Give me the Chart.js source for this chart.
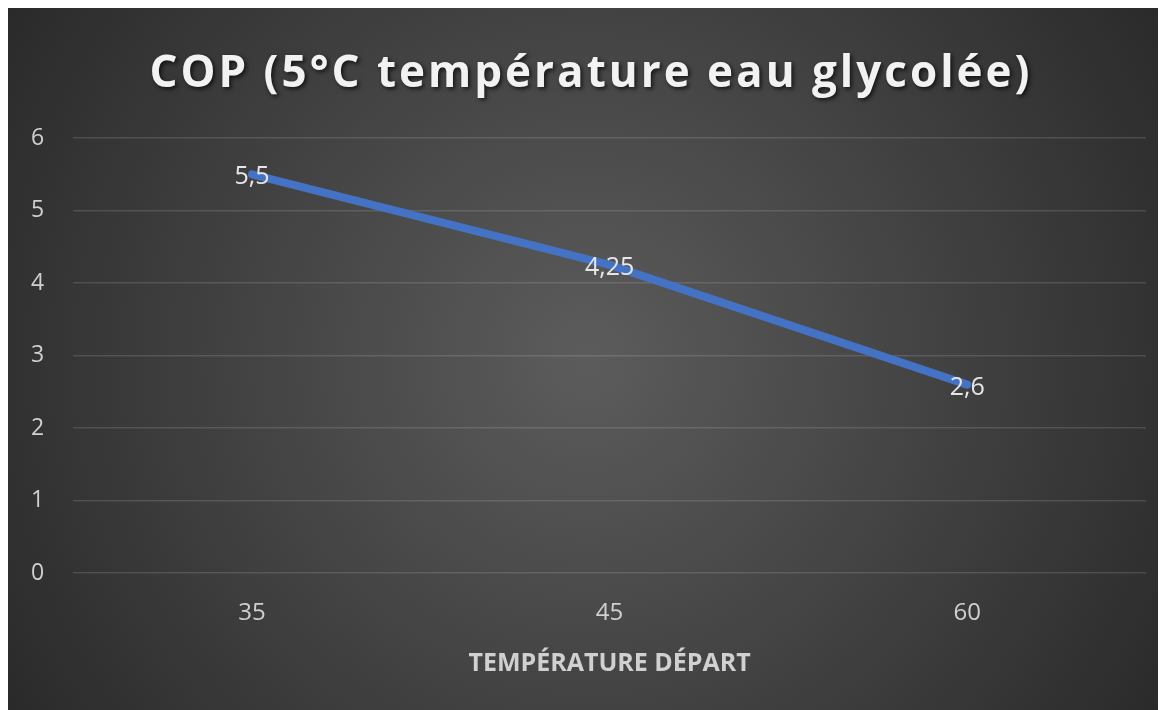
<!DOCTYPE html>
<html lang="fr">
<head>
<meta charset="utf-8">
<title>COP</title>
<script src="https://cdn.jsdelivr.net/npm/chart.js@4"></script>
<style>
	body { margin: 8px; background: #fff; overflow: hidden; }
	#wrap { width: 1158px; height: 702px; }
</style>
</head>
<body>
<div id="wrap"><canvas id="copChart"></canvas></div>
<script>
const temperatures = ['35', '45', '60'];
const copValues = [5.5, 4.25, 2.6];
const yMin = 0;
const yMax = 6;
const yStep = 1;
const chartTitle = 'COP (5°C température eau glycolée)';
const xAxisTitle = 'TEMPÉRATURE DÉPART';

const FONT = '"Open Sans", sans-serif';

// fond gris foncé avec dégradé radial
const backgroundPlugin = {
	id: 'background',
	beforeDraw(chart) {
		const { ctx, width, height } = chart;
		const g = ctx.createRadialGradient(width / 2, height / 2, 0, width / 2, height / 2, width * 0.62);
		g.addColorStop(0, '#5c5c5c');
		g.addColorStop(1, '#272727');
		ctx.save();
		ctx.fillStyle = g;
		ctx.fillRect(0, 0, width, height);
		ctx.restore();
	},
};

// titre avec ombre portée
const titlePlugin = {
	id: 'shadowTitle',
	afterDraw(chart) {
		const { ctx, width } = chart;
		ctx.save();
		ctx.font = `bold 44px ${FONT}`;
		ctx.letterSpacing = '3px';
		ctx.textAlign = 'center';
		ctx.textBaseline = 'middle';
		ctx.shadowColor = 'rgba(0,0,0,0.7)';
		ctx.shadowBlur = 4;
		ctx.shadowOffsetX = 2;
		ctx.shadowOffsetY = 2;
		ctx.fillStyle = '#f2f2f2';
		ctx.fillText(chartTitle, width / 2 + 4, 66);
		ctx.restore();
	},
};

// étiquettes de valeurs (virgule décimale)
const valueLabels = {
	id: 'valueLabels',
	afterDatasetsDraw(chart) {
		const { ctx } = chart;
		const meta = chart.getDatasetMeta(0);
		ctx.save();
		ctx.font = `25px ${FONT}`;
		ctx.fillStyle = '#e6e6e6';
		ctx.textAlign = 'center';
		ctx.textBaseline = 'middle';
		meta.data.forEach((pt, i) => {
			const txt = String(copValues[i]).replace('.', ',');
			ctx.fillText(txt, pt.x, pt.y + 3);
		});
		ctx.restore();
	},
};

new Chart(document.getElementById('copChart'), {
	type: 'line',
	data: {
		labels: temperatures,
		datasets: [
			{
				data: copValues,
				borderColor: '#4472c4',
				borderWidth: 8,
				borderCapStyle: 'round',
				pointRadius: 0,
				tension: 0,
			},
		],
	},
	plugins: [backgroundPlugin, valueLabels, titlePlugin],
	options: {
		responsive: true,
		maintainAspectRatio: false,
		animation: false,
		layout: {
			padding: { top: 130, left: -6, right: 20, bottom: 27 },
		},
		plugins: {
			legend: { display: false },
			tooltip: { enabled: false },
			title: { display: false },
		},
		scales: {
			x: {
				offset: true,
				grid: { display: false },
				border: { display: false },
				ticks: {
					color: '#d0d0d0',
					font: { family: FONT, size: 24 },
					padding: 18,
				},
				title: {
					display: true,
					text: xAxisTitle,
					color: '#d0d0d0',
					font: { family: FONT, size: 25, weight: 'bold' },
					padding: { top: 3 },
				},
			},
			y: {
				min: yMin,
				max: yMax,
				ticks: {
					stepSize: yStep,
					color: '#d0d0d0',
					font: { family: FONT, size: 23 },
					padding: 29,
				},
				grid: {
					color: 'rgba(255,255,255,0.13)',
					lineWidth: 1.5,
					drawTicks: false,
				},
				border: { display: false },
			},
		},
	},
});
</script>
</body>
</html>
